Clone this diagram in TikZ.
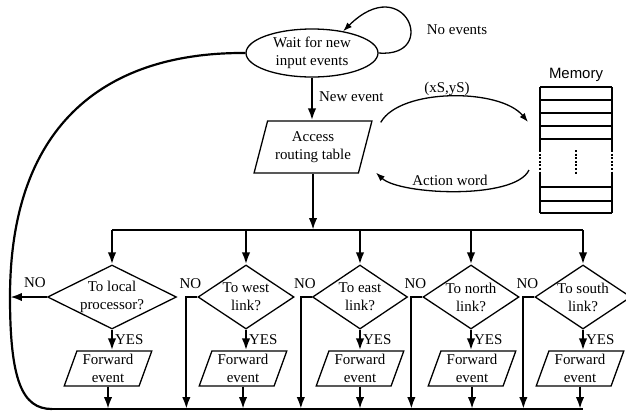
\documentclass[tikz,border=0pt]{standalone}
\usepackage{fontspec}
\setmainfont{Liberation Serif}
\newfontfamily\memfont{Liberation Sans}
\usetikzlibrary{arrows.meta,shapes.geometric}

\begin{document}
\begin{tikzpicture}[>={Latex[length=12pt,width=8.5pt]},x=1bp,y=-1bp,
 every node/.style={font=\fontsize{15}{18}\selectfont},
 flow/.style={line width=2.2pt},
 thinflow/.style={line width=1.3pt,>={Latex[length=9pt,width=6.5pt]}},
 oval/.style={draw,line width=1.3pt,ellipse,minimum width=132bp,minimum height=48bp,inner sep=0pt,align=center},
 para/.style={draw,line width=1.3pt,trapezium,trapezium left angle=70,trapezium right angle=110,
   trapezium stretches=true,inner sep=0pt,align=center},
 decision/.style={draw,line width=1.3pt,diamond,minimum height=64bp,inner sep=-2pt,align=center},
 tag/.style={inner sep=1pt}]
\useasboundingbox (0,0) rectangle (626,414);
% wait for events
\node[oval] (wait) at (312,53) {Wait for new\\input events};
\draw[thinflow,->] (wait.east) .. controls (440,58) and (405,-30) .. (wait.35);
\node (noev) at (457,30) {No events};
% routing table
\node[para,minimum width=118bp,minimum height=52bp] (access) at (313,147) {Access\\routing table};
\draw[flow,->] (wait.south) -- (wait.south |- access.north);
\node[tag,anchor=west] (newev) at (318,97) {New event};
% memory
\node[font=\memfont\fontsize{15}{18}\selectfont] (memlab) at (576,75) {Memory};
\foreach \y in {87,100,113,126,139,187,201,213}{\draw[line width=1.6pt] (540,\y)--(612,\y);}
\draw[line width=1.6pt] (540,87)--(540,150) (612,87)--(612,150) (540,173)--(540,213) (612,173)--(612,213);
\draw[line width=1.6pt,dash pattern=on 2pt off 1.6pt] (540,150)--(540,173) (612,150)--(612,173) (576,150)--(576,174);
\coordinate (memin) at (528,122);
\coordinate (memout) at (529,170);
\draw[thinflow,->] ([shift={(8,2)}]access.top right corner) .. controls (400,88) and (500,88) .. (memin);
\draw[thinflow,->] (memout) .. controls (515,200) and (400,195) .. ([shift={(17,-1)}]access.bottom right corner);
\node (xy) at (447,89) {(xS,yS)};
\node (act) at (450,180) {Action word};
% decisions
\coordinate (bus) at (312,230);
\coordinate (lp) at (10,297);
\coordinate (bl) at (52,409);
\draw[flow,->] (access.south) -- (access.south |- bus);
\foreach \n/\x/\fx/\w/\a/\lab in {1/112/108/129/2/{To local\\processor?},2/246/243/96/1.5/{To west\\link?},
  3/360/360/95/1.5/{To east\\link?},4/471/472/96/1.5/{To north\\link?},5/583/580/96/1.5/{To south\\link?}}{
 \node[decision,minimum width=\w bp,aspect=\a] (d\n) at (\x,297) {\lab};
 \node[para,minimum width=88bp,minimum height=35bp] (f\n) at (\fx,368.5) {Forward\\event};
 \draw[flow,->] (d\n.north |- bus) -- (d\n.north);
 \draw[flow,->] (d\n.south) -- (d\n.south |- f\n.north);
 \node[tag,anchor=west] (yes\n) at ([shift={(2,10)}]d\n.south) {YES};
 \draw[flow,->] (f\n.south) -- (f\n.south |- bl);}
\draw[flow] (d1.north |- bus) -- (d5.north |- bus);
% NO branches
\draw[flow,->] (d1.west) -- (d1.west -| lp);
\node[tag,anchor=south east] (no1) at ([shift={(0,-8)}]d1.west) {NO};
\foreach \n in {2,3,4,5}{
 \coordinate (c\n) at ([xshift=-11bp]d\n.west);
 \draw[flow,->] (d\n.west) -- (c\n) -- (c\n |- bl);
 \node[tag,anchor=south east] (no\n) at ([shift={(5,-7)}]d\n.west) {NO};}
% back to waiting
\draw[flow] (wait.west) .. controls (110,52) and (10,120) .. (lp) .. controls (10,380) and (22,409) .. (bl);
\draw[flow] (bl) -- (d5.south |- bl);
\end{tikzpicture}
\end{document}
